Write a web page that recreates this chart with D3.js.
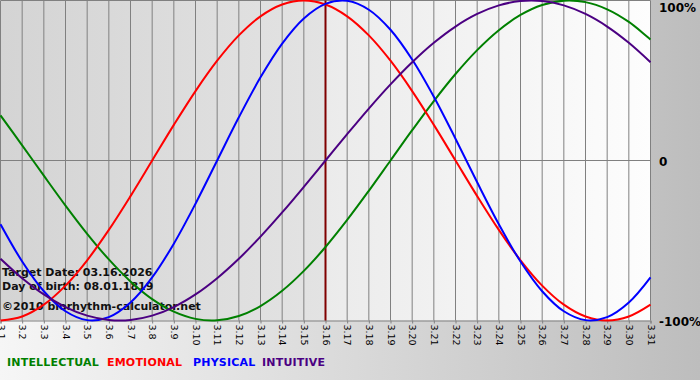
<!DOCTYPE html>
<html><head><meta charset="utf-8">
<script src="https://cdn.jsdelivr.net/npm/d3@7"></script>
<style>html,body{margin:0;padding:0;background:#fff}svg{display:block}</style>
</head><body>
<script>
// Days of March shown on the x axis
const days = d3.range(1, 32);
const tickLabels = days.map(d => "3." + d);
const targetDay = 16;
const yTickValues = [1, 0, -1];
const yTickLabels = ["100%", "0", "-100%"];

// Series values (fraction of 100%) read for each day 3.1 .. 3.31
const intellectual = [0.2817,0.0950,-0.0950,-0.2817,-0.4582,-0.6182,-0.7557,-0.8660,-0.9450,-0.9898,-0.9989,-0.9718,-0.9096,-0.8146,-0.6901,-0.5406,-0.3717,-0.1893,0.0000,0.1893,0.3717,0.5406,0.6901,0.8146,0.9096,0.9718,0.9989,0.9898,0.9450,0.8660,0.7557];
const emotional = [-1.0000,-0.9749,-0.9010,-0.7818,-0.6235,-0.4339,-0.2225,0.0000,0.2225,0.4339,0.6235,0.7818,0.9010,0.9749,1.0000,0.9749,0.9010,0.7818,0.6235,0.4339,0.2225,0.0000,-0.2225,-0.4339,-0.6235,-0.7818,-0.9010,-0.9749,-1.0000,-0.9749,-0.9010];
const physical = [-0.3984,-0.6311,-0.8170,-0.9423,-0.9977,-0.9791,-0.8879,-0.7308,-0.5196,-0.2698,0.0000,0.2698,0.5196,0.7308,0.8879,0.9791,0.9977,0.9423,0.8170,0.6311,0.3984,0.1362,-0.1362,-0.3984,-0.6311,-0.8170,-0.9423,-0.9977,-0.9791,-0.8879,-0.7308];
const intuitive = [-0.6142,-0.7357,-0.8372,-0.9158,-0.9694,-0.9966,-0.9966,-0.9694,-0.9158,-0.8372,-0.7357,-0.6142,-0.4759,-0.3247,-0.1646,0.0000,0.1646,0.3247,0.4759,0.6142,0.7357,0.8372,0.9158,0.9694,0.9966,0.9966,0.9694,0.9158,0.8372,0.7357,0.6142];

const seriesNames = ["INTELLECTUAL", "EMOTIONAL", "PHYSICAL", "INTUITIVE"];
const seriesColors = ["#008000", "#ff0000", "#0000ff", "#4b0082"];
const seriesValues = [intellectual, emotional, physical, intuitive];
const infoLines = ["Target Date: 03.16.2026", "Day of birth: 08.01.1819", "\u00a92010 biorhythm-calculator.net"];

const W = 700, H = 380;
const svg = d3.select("body").append("svg").attr("width", W).attr("height", H)
  .style("font-family", "'DejaVu Sans', Verdana, sans-serif");
const defs = svg.append("defs");
function grad(id, c0, c1) {
  const g = defs.append("linearGradient").attr("id", id).attr("x1", "0").attr("x2", "1").attr("y1", "0").attr("y2", "0");
  g.append("stop").attr("offset", "0").attr("stop-color", c0);
  g.append("stop").attr("offset", "1").attr("stop-color", c1);
}
grad("bg", "#f6f6f6", "#bdbdbd");
grad("pl", "#d4d4d4", "#e3e3e3");
grad("pr", "#ebebeb", "#fdfdfd");

svg.append("rect").attr("width", W).attr("height", H).attr("fill", "url(#bg)");

const x = d3.scaleLinear().domain([1, 31]).range([0.5, 650.5]);
const y = d3.scaleLinear().domain([-1, 1]).range([320.5, 0.5]);

// plot backgrounds
svg.append("rect").attr("x", x(1)).attr("y", y(1)).attr("width", x(targetDay) - x(1)).attr("height", y(-1) - y(1)).attr("fill", "url(#pl)");
svg.append("rect").attr("x", x(targetDay)).attr("y", y(1)).attr("width", x(31) - x(targetDay)).attr("height", y(-1) - y(1)).attr("fill", "url(#pr)");

// x axis with ticks and rotated labels
const xAxis = d3.axisBottom(x).tickValues(days).tickSize(3).tickFormat((d, i) => tickLabels[i]);
const gx = svg.append("g").attr("transform", `translate(0,${y(-1)})`).call(xAxis);
gx.select(".domain").attr("stroke", "#808080");
gx.selectAll(".tick line").attr("stroke", "#808080");
gx.selectAll(".tick text").attr("fill", "#000").attr("font-size", "9.5px")
  .attr("font-family", "'DejaVu Sans', Verdana, sans-serif")
  .attr("text-anchor", "start").attr("transform", "rotate(90)").attr("x", 4).attr("y", 0).attr("dy", "0.35em");

// vertical grid
svg.append("g").selectAll("line").data(days).join("line")
  .attr("x1", d => x(d)).attr("x2", d => x(d)).attr("y1", y(1)).attr("y2", y(-1))
  .attr("stroke", "#808080").attr("stroke-width", 1);
// top border, zero line
svg.append("line").attr("x1", x(1)).attr("x2", x(31)).attr("y1", y(1)).attr("y2", y(1)).attr("stroke", "#808080");
svg.append("line").attr("x1", x(1)).attr("x2", x(31)).attr("y1", y(0)).attr("y2", y(0)).attr("stroke", "#808080");

// right labels
svg.append("g").selectAll("text").data(yTickValues).join("text")
  .attr("x", 659).attr("y", (d, i) => i === 0 ? 12 : y(d) + 5)
  .attr("font-size", "12px").attr("font-weight", "bold").attr("fill", "#000")
  .text((d, i) => yTickLabels[i]);

// info text
svg.append("g").selectAll("text").data(infoLines).join("text")
  .attr("x", 2).attr("y", (d, i) => [276, 290, 310][i])
  .attr("font-size", "11px").attr("font-weight", "bold").attr("fill", "#111")
  .text(d => d);

// target line
svg.append("line").attr("x1", x(targetDay)).attr("x2", x(targetDay)).attr("y1", y(1)).attr("y2", y(-1))
  .attr("stroke", "#800000").attr("stroke-width", 2);

// curves
const lineGen = d3.line().x((d, i) => x(days[i])).y(d => y(d)).curve(d3.curveCatmullRom);
svg.append("g").selectAll("path").data(seriesValues).join("path")
  .attr("d", d => lineGen(d)).attr("fill", "none")
  .attr("stroke", (d, i) => seriesColors[i]).attr("stroke-width", 2);

// legend
const legendX = [7, 107, 193, 262];
svg.append("g").selectAll("text").data(seriesNames).join("text")
  .attr("x", (d, i) => legendX[i]).attr("y", 366)
  .attr("font-size", "11px").attr("font-weight", "bold").attr("letter-spacing", "0.2px")
  .attr("fill", (d, i) => seriesColors[i]).text(d => d);
</script>
</body></html>
